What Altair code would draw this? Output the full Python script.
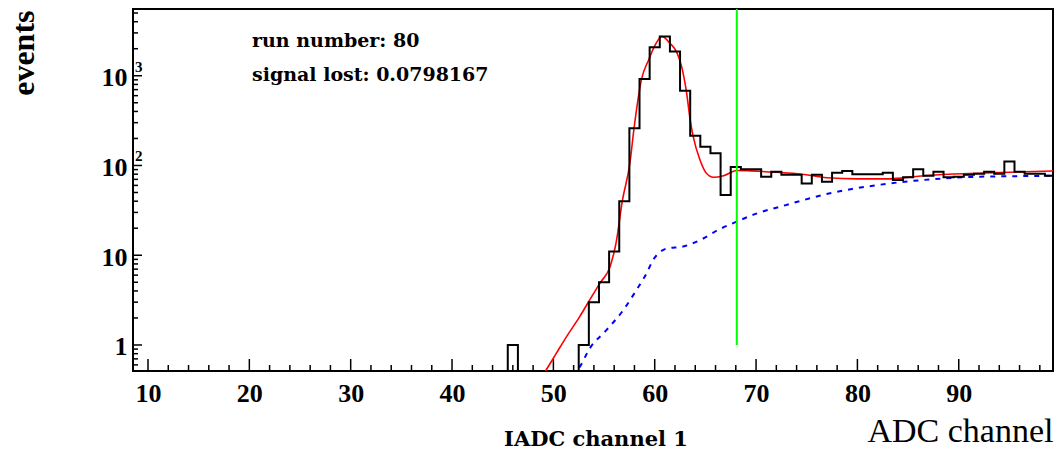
import altair as alt
import pandas as pd

# ---------------- data ----------------
bin_centers = list(range(44, 100))
bin_counts = [0, 0, 1, 0, 0, 0, 0, 0, 0, 1, 3, 5, 11, 40, 260, 920, 2080, 2740,
              1860, 680, 214, 162, 137, 47, 96, 91, 91, 75, 85, 79, 79, 63, 79, 66,
              83, 87, 80, 80, 80, 83, 69, 74, 91, 77, 85, 74, 75, 79, 81, 85, 81,
              111, 85, 81, 81, 77]

fit_x = [48.9, 49.3, 50.3, 51.3, 52.6, 53.6, 54.6, 55.6, 56.2, 56.8, 57.55, 57.96,
         58.7, 59.4, 60.0, 60.7, 61.5, 62.2, 62.65, 63.15, 63.5, 63.8, 64.46, 65.1,
         65.8, 66.8, 68.1, 69.5, 72.0, 74.5, 77.0, 80.0, 83.0, 86.0, 89.0, 92.0,
         95.0, 99.3]
fit_y = [0.45, 0.53, 0.81, 1.24, 2.07, 3.2, 4.9, 7.5, 14, 40, 106, 260,
         917, 1500, 2150, 2735, 2300, 1800, 1270, 640, 321, 210, 116, 82,
         74, 77, 88, 87, 84, 80, 73, 71, 71, 76, 80, 82,
         84, 87]

bkg_x = [51.9, 52.6, 53.6, 55.25, 56.9, 58.2, 59.2, 59.85, 60.5, 61.2, 62.8, 64.5,
         66.4, 68.1, 70.1, 72.4, 77.3, 82.2, 87.2, 92.1, 96.0, 99.3]
bkg_y = [0.45, 0.57, 0.92, 1.47, 2.45, 4.1, 6.3, 8.9, 10.8, 11.9, 12.5, 14.8,
         19.5, 23.7, 29.3, 34.8, 49, 61, 70, 75, 76, 77]

cut_x = [68.1]
cut_y_low = [1.0]

x_label_values = [10, 20, 30, 40, 50, 60, 70, 80, 90]
x_minor_ticks = [v for v in range(10, 100, 2) if v % 10 != 0]
y_label_values = [1, 10, 100, 1000]
y_minor_ticks = ([0.6, 0.7, 0.8, 0.9] + [m * d for d in (1, 10, 100) for m in range(2, 10)]
                 + [2000, 3000, 4000, 5000])
sup_values = [100, 1000]
sup_text = ["2", "3"]

annotations = ["run number: 80", "signal lost: 0.0798167"]
sub_title = "IADC channel 1"
x_title = "ADC channel"
y_title = "events"

# ---------------- layout / style ----------------
W, H = 920, 362
X_DOMAIN = [8.52, 99.3]
Y_DOMAIN = [0.513, 5540]
HIST_FLOOR = 0.3

hist_rows = []
for i, (c, v) in enumerate(zip(bin_centers, bin_counts)):
    vv = v if v > 0 else HIST_FLOOR
    hist_rows.append({"x": c - 0.5, "y": vv, "o": 2 * i})
    hist_rows.append({"x": c + 0.5, "y": vv, "o": 2 * i + 1})
hist_df = pd.DataFrame(hist_rows)
fit_df = pd.DataFrame({"x": fit_x, "y": fit_y})
bkg_df = pd.DataFrame({"x": bkg_x, "y": bkg_y})
cut_df = pd.DataFrame({"x": cut_x, "y": cut_y_low})
xmaj_df = pd.DataFrame({"x": x_label_values})
xmin_df = pd.DataFrame({"x": x_minor_ticks})
ymaj_df = pd.DataFrame({"y": y_label_values})
ymin_df = pd.DataFrame({"y": y_minor_ticks})
sup_df = pd.DataFrame({"y": sup_values, "t": sup_text})

xscale = alt.Scale(domain=X_DOMAIN, nice=False, zero=False)
yscale = alt.Scale(type="log", domain=Y_DOMAIN, nice=False)

x_axis = alt.Axis(values=x_label_values, title=x_title, labelPadding=9,
                  titleX=W, titleY=70, titleAlign="right", titleBaseline="alphabetic",
                  titleAngle=0, titleFont="Liberation Serif", titleFontSize=34,
                  titleFontWeight="normal")
y_axis = alt.Axis(values=y_label_values,
                  labelExpr="datum.value == 1 ? '1' : '10'",
                  title=y_title, labelPadding=6, labelOffset=2,
                  titleX=-100, titleY=1, titleAlign="right", titleBaseline="alphabetic",
                  titleAngle=-90, titleFont="Liberation Serif", titleFontSize=32,
                  titleFontWeight="bold")

X = lambda f="x": alt.X(f"{f}:Q", scale=xscale, axis=x_axis)
Y = lambda f="y": alt.Y(f"{f}:Q", scale=yscale, axis=y_axis)

hist = alt.Chart(hist_df).mark_line(color="black", strokeWidth=2, clip=True).encode(
    x=X(), y=Y(), order=alt.Order("o:Q"))
fit = alt.Chart(fit_df).mark_line(color="#ff0000", strokeWidth=1.6, clip=True,
                                  interpolate="monotone").encode(x=X(), y=Y())
bkg = alt.Chart(bkg_df).mark_line(color="#0000ff", strokeWidth=2, clip=True,
                                  strokeDash=[5, 6], interpolate="monotone").encode(x=X(), y=Y())
cut = alt.Chart(cut_df).mark_rule(color="#00ff00", strokeWidth=2).encode(
    x=X(), y=Y(), y2=alt.value(0))

xmaj = alt.Chart(xmaj_df).mark_rule(color="black", strokeWidth=1.5).encode(
    x=X(), y=alt.value(H), y2=alt.value(H - 12))
xmin = alt.Chart(xmin_df).mark_rule(color="black", strokeWidth=1.5).encode(
    x=X(), y=alt.value(H), y2=alt.value(H - 6))
ymaj = alt.Chart(ymaj_df).mark_rule(color="black", strokeWidth=1.5).encode(
    y=Y(), x=alt.value(0), x2=alt.value(9))
ymin = alt.Chart(ymin_df).mark_rule(color="black", strokeWidth=1.5, clip=True).encode(
    y=Y(), x=alt.value(0), x2=alt.value(5))

sup = alt.Chart(sup_df).mark_text(align="left", baseline="alphabetic", dy=-4,
                                  font="Liberation Serif", fontWeight="bold",
                                  fontSize=15, color="black").encode(
    y=Y(), x=alt.value(2), text="t:N")

ann_style = dict(align="left", baseline="alphabetic", font="DejaVu Serif",
                 fontWeight="bold", fontSize=19, color="black")
ann1 = alt.Chart(pd.DataFrame({"t": [annotations[0]]})).mark_text(**ann_style).encode(
    x=alt.value(119), y=alt.value(38), text="t:N")
ann2 = alt.Chart(pd.DataFrame({"t": [annotations[1]]})).mark_text(**ann_style).encode(
    x=alt.value(119), y=alt.value(72), text="t:N")
sub = alt.Chart(pd.DataFrame({"t": [sub_title]})).mark_text(
    align="center", baseline="alphabetic", font="DejaVu Serif", fontWeight="bold",
    fontSize=21, color="black").encode(x=alt.value(463), y=alt.value(437), text="t:N")

chart = alt.layer(
    xmin, xmaj, ymin, ymaj, bkg, fit, hist, cut, sup, ann1, ann2, sub
).properties(
    width=W, height=H,
    autosize=alt.AutoSizeParams(type="none"),
    padding={"left": 133, "top": 9, "right": 4, "bottom": 80},
    background="white",
).configure_view(
    stroke="black", strokeWidth=2, fill="white"
).configure_axis(
    domain=False, ticks=False, grid=False, tickSize=0,
    labelFont="Liberation Serif", labelFontWeight="bold", labelFontSize=26,
    labelColor="black", titleColor="black"
).configure_axisX(
    labelBaseline="top", labelAlign="center"
).configure_axisY(
    labelBaseline="middle", labelAlign="right"
)

chart.save("out.html", embed_options={"renderer": "svg", "actions": False})
